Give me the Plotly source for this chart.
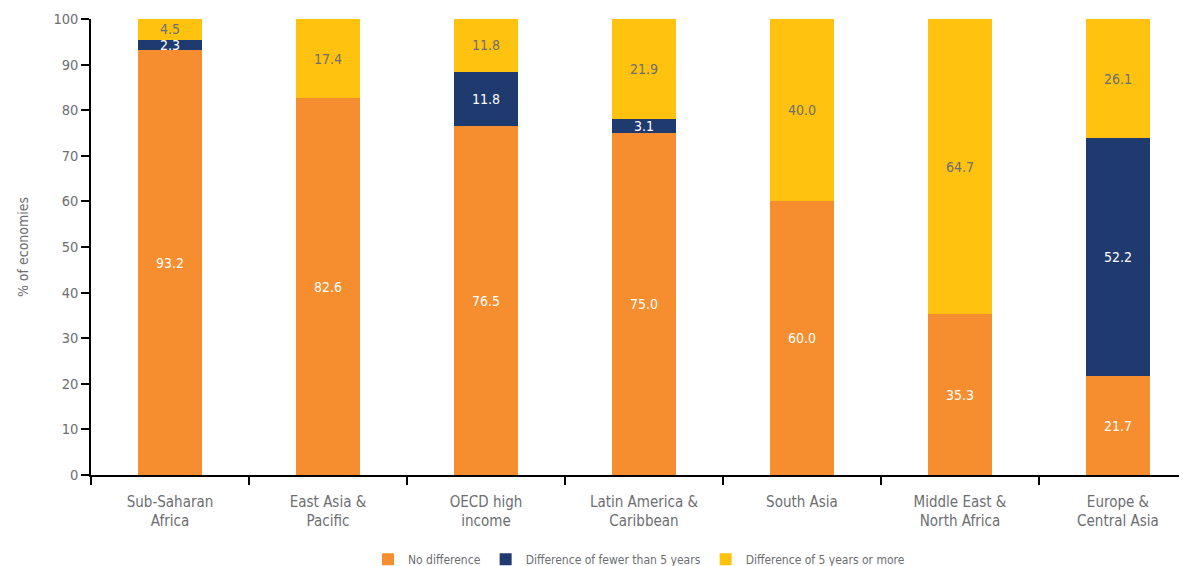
import plotly.graph_objects as go

categories = ["Sub-Saharan<br>Africa", "East Asia &<br>Pacific", "OECD high<br>income",
              "Latin America &<br>Caribbean", "South Asia", "Middle East &<br>North Africa",
              "Europe &<br>Central Asia"]
no_diff = [93.2, 82.6, 76.5, 75.0, 60.0, 35.3, 21.7]
fewer5 = [2.3, None, 11.8, 3.1, None, None, 52.2]
more5 = [4.5, 17.4, 11.8, 21.9, 40.0, 64.7, 26.1]
y_ticks = [0, 10, 20, 30, 40, 50, 60, 70, 80, 90, 100]

FONT = "DejaVu Sans Condensed, Roboto, sans-serif"
GREY = "#6d6e71"

series = [
    ("No difference", no_diff, "#F68D2E", "white"),
    ("Difference of fewer than 5 years", fewer5, "#1F3A6E", "white"),
    ("Difference of 5 years or more", more5, "#FFC20E", GREY),
]

fig = go.Figure()
for name, vals, col, tcol in series:
    fig.add_trace(go.Bar(
        x=categories, y=vals, name=name, marker=dict(color=col, line=dict(width=0)),
        width=0.405, texttemplate="%{y:.1f}", textposition="inside",
        insidetextanchor="middle", textangle=0, constraintext="none",
        textfont=dict(family=FONT, size=14, color=tcol),
    ))

fig.update_layout(
    barmode="stack", width=1179, height=558,
    margin=dict(l=83, r=0, t=11, b=91, autoexpand=False),
    plot_bgcolor="white", paper_bgcolor="white",
    font=dict(family=FONT, size=14, color=GREY),
    uniformtext=dict(minsize=14, mode="show"),
    legend=dict(orientation="h", x=0.5, xanchor="center", y=-0.153, yanchor="top",
                font=dict(family=FONT, size=12, color=GREY), traceorder="normal",
                itemwidth=30),
    xaxis=dict(range=[-0.5, 6.437], showline=True, linecolor="black", linewidth=1.5,
               ticks="outside", tickson="boundaries", ticklen=8, tickcolor="black",
               tickwidth=1.5, tickfont=dict(family=FONT, size=15, color=GREY),
               ticklabelstandoff=12,
               showgrid=False, zeroline=False, automargin=False),
    yaxis=dict(range=[0, 100], tickvals=y_ticks, showline=True, linecolor="black",
               linewidth=1.5, ticks="outside", ticklen=8, tickcolor="black", tickwidth=1.5,
               tickfont=dict(family=FONT, size=14.5, color=GREY), showgrid=False,
               zeroline=False, automargin=False,
               title=dict(text="% of economies", font=dict(family=FONT, size=14, color=GREY),
                          standoff=22)),
)

fig.write_html("out.html")
